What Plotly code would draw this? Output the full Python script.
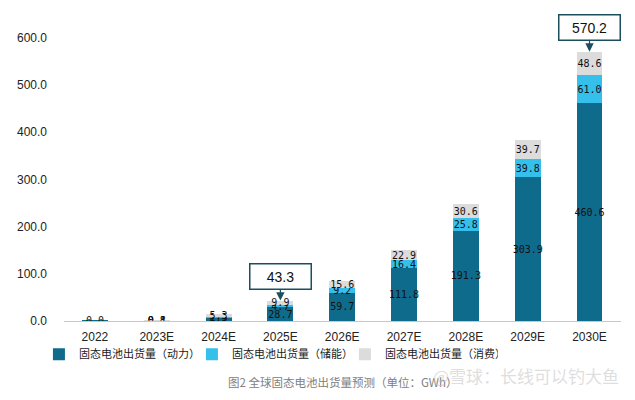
import plotly.graph_objects as go

years = ["2022", "2023E", "2024E", "2025E", "2026E", "2027E", "2028E", "2029E", "2030E"]
power = [0.04, 0.8, 7.2, 28.7, 59.7, 111.8, 191.3, 303.9, 460.6]
storage = [0.0, 0.1, 2.3, 4.7, 9.2, 16.4, 25.8, 39.8, 61.0]
consumer = [0.0, 0.4, 5.3, 9.9, 15.6, 22.9, 30.6, 39.7, 48.6]
names = ["固态电池出货量（动力）", "固态电池出货量（储能）", "固态电池出货量（消费）"]
colors = ["#0F6B8C", "#35C0EC", "#DCDCDC"]
yticks = [0, 100, 200, 300, 400, 500, 600]
callouts = {"2025E": 43.3, "2030E": 570.2}

fig = go.Figure()
for vals, nm, col in zip([power, storage, consumer], names, colors):
    fig.add_trace(go.Bar(
        x=years, y=vals, name=nm, marker_color=col, marker_line_width=0,
        text=[f"{v:.1f}" for v in vals], textposition="inside",
        insidetextanchor="middle", constraintext="none",
        textfont=dict(size=10, color="#111111", family="DejaVu Sans Mono"),
        textangle=0,
    ))

for yr, tot in callouts.items():
    fig.add_annotation(
        x=yr, y=tot, xref="x", yref="y", text=f"{tot:.1f}",
        showarrow=True, arrowhead=2, arrowsize=1.4, arrowwidth=1.2,
        arrowcolor="#1B4F5E", ax=0, ay=-24,
        bordercolor="#1B4F5E", borderwidth=1.5, borderpad=4, bgcolor="white",
        font=dict(size=14, color="#111111", family="Liberation Sans"),
        width=52,
    )

fig.add_annotation(
    x=0.5, y=-0.23, xref="paper", yref="paper",
    text="图2 全球固态电池出货量预测（单位：GWh）", showarrow=False,
    font=dict(size=11.5, color="#808080", family="Noto Sans CJK SC"),
)
fig.add_annotation(
    x=1.0, y=-0.225, xref="paper", yref="paper", xanchor="right",
    text="@雪球：长线可以钓大鱼", showarrow=False,
    font=dict(size=17, color="rgba(200,200,200,0.6)", family="Noto Sans CJK SC"),
)

fig.update_layout(
    barmode="stack", bargap=0.58,
    width=635, height=400,
    margin=dict(l=64, r=14, t=14, b=79),
    paper_bgcolor="white", plot_bgcolor="white",
    font=dict(family="Noto Sans CJK SC", color="#222222"),
    showlegend=True,
    legend=dict(orientation="h", x=-0.045, xanchor="left", y=-0.108, yanchor="middle",
                bgcolor="rgba(0,0,0,0)",
                font=dict(size=11, color="#222222", family="Noto Sans CJK SC"),
                entrywidth=108, itemwidth=30, traceorder="normal"),
    xaxis=dict(showline=True, linecolor="#C8C8C8", linewidth=1, ticks="",
               tickfont=dict(size=12, color="#222222", family="Liberation Sans"),
               showgrid=False, ticklabelstandoff=5),
    yaxis=dict(range=[0, 650], tickvals=yticks, ticktext=[f"{v:.1f}" for v in yticks],
               showgrid=False, zeroline=False, showline=False,
               tickfont=dict(size=12, color="#222222", family="Liberation Sans"),
               ticklabelstandoff=16),
)

fig.write_html("out.html")
